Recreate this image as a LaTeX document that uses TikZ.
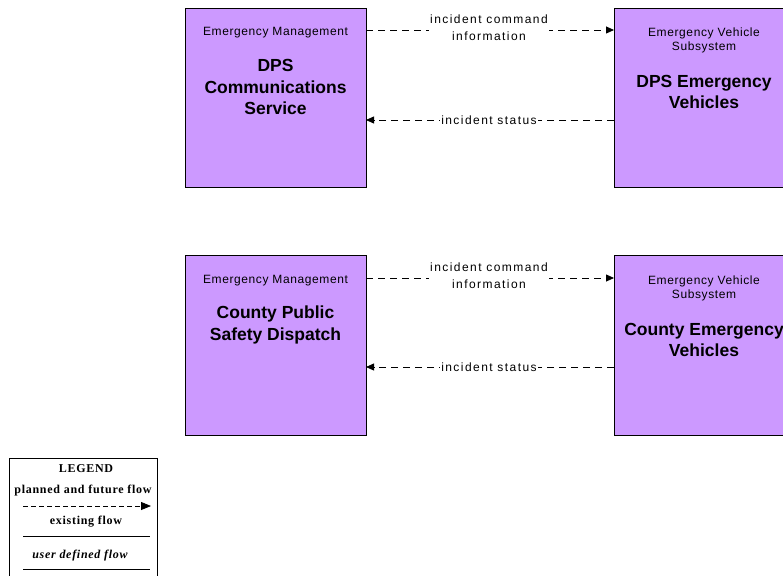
\documentclass[tikz,border=0pt]{standalone}
\usepackage{fontspec}
\setmainfont{Liberation Sans}
\newfontfamily\legfont[LetterSpace=6]{Liberation Serif}
\newfontfamily\subfont[LetterSpace=5]{Liberation Sans}
\newfontfamily\labfont[LetterSpace=12]{Liberation Sans}
\usetikzlibrary{arrows.meta}
\definecolor{boxfill}{HTML}{CC99FF}
\tikzset{
  ent/.style={draw=black, fill=boxfill, line width=0.8pt},
  small/.style={font=\subfont\fontsize{12}{14}\selectfont, align=center, inner sep=1pt},
  big/.style={font=\fontsize{17.5}{21.5}\selectfont\bfseries, align=center, inner sep=1pt},
  flow/.style={draw=black, line width=0.8pt, dash pattern=on 7pt off 5pt, -{Triangle[length=8pt,width=7pt]}},
  flab/.style={font=\labfont\fontsize{12}{17}\selectfont, align=center, fill=white, inner sep=1pt},
  leg/.style={font=\legfont\fontsize{12}{14}\selectfont\bfseries, inner sep=1pt}
}
\begin{document}
\begin{tikzpicture}[x=1pt,y=-1pt]
\useasboundingbox (0,0) rectangle (783,575);
\clip (0,0) rectangle (783,575);
% boxes
\draw[ent] (185,8) rectangle (366,187);
\node[small] (a1) at (275.5,33) {Emergency Management};
\node[big] (a2) at (275.5,87) {DPS\\Communications\\Service};
\draw[ent] (614,8) rectangle (794,187);
\node[small] (b1) at (704,40) {Emergency Vehicle\\Subsystem};
\node[big] (b2) at (704,92) {DPS Emergency\\Vehicles};
\draw[ent] (185,255) rectangle (366,435);
\node[small] (c1) at (275.5,281) {Emergency Management};
\node[big] (c2) at (275.5,325) {County Public\\Safety Dispatch};
\draw[ent] (614,255) rectangle (794,435);
\node[small] (d1) at (704,288) {Emergency Vehicle\\Subsystem};
\node[big] (d2) at (704,340) {County Emergency\\Vehicles};
% anchor coordinates
\coordinate (A1) at (366,30); \coordinate (B1) at (614,30);
\coordinate (A2) at (366,120); \coordinate (B2) at (614,120);
\coordinate (C1) at (366,278); \coordinate (D1) at (614,278);
\coordinate (C2) at (366,367); \coordinate (D2) at (614,367);
\draw[flow] (A1) -- (B1);
\node[flab] (l1) at (489,28) {incident command\\information};
\draw[flow] (B2) -- (A2);
\node[flab] (l2) at (489,120) {incident status};
\draw[flow] (C1) -- (D1);
\node[flab] (l3) at (489,276) {incident command\\information};
\draw[flow] (D2) -- (C2);
\node[flab] (l4) at (489,367) {incident status};
% legend
\draw[line width=0.8pt] (9,458) rectangle (157,580);
\node[leg] (lg) at (86,469) {LEGEND};
\node[leg] (lp) at (83,491) {planned and future flow};
\coordinate (p1) at (23,506); \coordinate (p2) at (151,506);
\draw[line width=0.8pt, dash pattern=on 5pt off 3pt, -{Triangle[length=10pt,width=8pt]}] (p1) -- (p2);
\node[leg] (le) at (86,522) {existing flow};
\coordinate (e1) at (23,536); \coordinate (e2) at (150,536);
\draw[line width=0.8pt] (e1) -- (e2);
\node[leg, font=\legfont\fontsize{12}{14}\selectfont\bfseries\itshape] (lu) at (80,556) {user defined flow};
\coordinate (u1) at (23,569); \coordinate (u2) at (150,569);
\draw[line width=0.8pt] (u1) -- (u2);
\end{tikzpicture}
\end{document}
